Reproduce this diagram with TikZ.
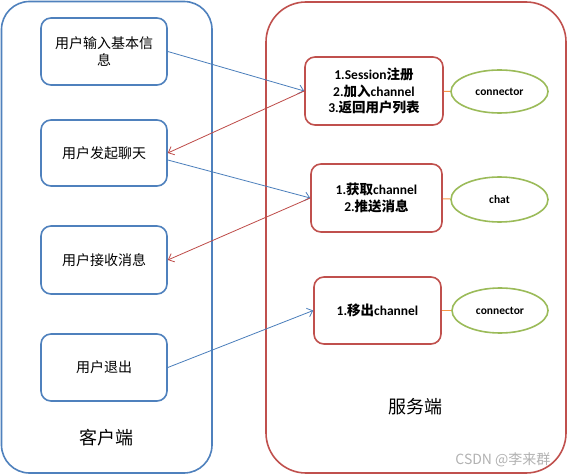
\documentclass[tikz,border=0pt]{standalone}
\usepackage{fontspec}
\setmainfont{Carlito}
\newfontfamily\cjk{Noto Sans CJK SC}
\usetikzlibrary{arrows.meta,shapes.geometric}
\newcommand\zh[1]{{\cjk #1}}
\definecolor{cblue}{HTML}{4F81BD}
\definecolor{cred}{HTML}{C0504D}
\definecolor{cgreen}{HTML}{9BBB59}
\definecolor{corange}{HTML}{F79646}
\definecolor{ablue}{HTML}{4A7EBB}
\definecolor{ared}{HTML}{BE4B48}
\tikzset{
  px/.style={x=1pt,y=-1pt},
  outerc/.style={draw=cblue,line width=1.6pt,rounded corners=28pt},
  outers/.style={draw=cred,line width=1.6pt,rounded corners=40pt},
  cbox/.style={draw=cblue,line width=1.6pt,rounded corners=10pt,inner sep=0pt,align=center,font=\cjk\fontsize{14}{17}\selectfont},
  sbox/.style={draw=cred,line width=1.6pt,rounded corners=10pt,inner sep=0pt,align=center,font=\bfseries\fontsize{13.5}{16.5}\selectfont},
  ebox/.style={ellipse,draw=cgreen,line width=1.6pt,inner sep=0pt,font=\bfseries\fontsize{11.5}{13}\selectfont},
  link/.style={draw=corange,line width=1pt},
  barrow/.style={draw=ablue,line width=0.8pt,-{Straight Barb[length=5pt,width=9pt]}},
  rarrow/.style={draw=ared,line width=0.8pt,-{Straight Barb[length=5pt,width=9pt]}},
}
\begin{document}
\begin{tikzpicture}[px]
\useasboundingbox (0,0) rectangle (568,476);
\fill[white] (0,0) rectangle (568,476);
% outer containers
\draw[outerc] (1.5,1.5) rectangle (212,473);
\draw[outers] (266,2) rectangle (566,473);
% client boxes
\node[cbox,minimum width=126pt,minimum height=67pt] (c1) at (104,51.5) {用户输入基本信\\息};
\node[cbox,minimum width=126pt,minimum height=66pt] (c2) at (104,153) {用户发起聊天};
\node[cbox,minimum width=126pt,minimum height=68pt] (c3) at (104,260) {用户接收消息};
\node[cbox,minimum width=126pt,minimum height=67pt] (c4) at (104,367.5) {用户退出};
\node[font=\cjk\fontsize{18}{20}\selectfont] (ct) at (106,438) {客户端};
% server boxes
\node[sbox,minimum width=138pt,minimum height=68pt] (s1) at (374,91) {1.Session\zh{注册}\\2.\zh{加入}channel\\3.\zh{返回用户列表}};
\node[sbox,minimum width=131pt,minimum height=68pt] (s2) at (376.5,198) {1.\zh{获取}channel\\2.\zh{推送消息}};
\node[sbox,minimum width=127pt,minimum height=67pt] (s3) at (377.5,310.5) {1.\zh{移出}channel};
\node[font=\cjk\fontsize{18}{20}\selectfont] (st) at (415,407) {服务端};
% ellipses
\node[ebox,minimum width=97pt,minimum height=43pt] (e1) at (499.5,91.5) {connector};
\node[ebox,minimum width=97pt,minimum height=45pt] (e2) at (499.5,199.5) {chat};
\node[ebox,minimum width=96pt,minimum height=45pt] (e3) at (500,310.5) {connector};
\draw[link] (s1) -- (e1);
\draw[link] (s2) -- (e2);
\draw[link] (s3) -- (e3);
% arrows
\draw[barrow] (c1.east) -- (s1.west);
\draw[rarrow] (s1.west) -- (c2.east);
\draw[barrow] ([yshift=-7pt]c2.east) -- (s2.west);
\draw[rarrow] (s2.west) -- (c3.east);
\draw[barrow] (c4.east) -- (s3.west);
% watermark
\node[text=black!30,font=\cjk\fontsize{14}{16}\selectfont,anchor=east] (wm) at (554,460) {CSDN @李来群};
\end{tikzpicture}
\end{document}
